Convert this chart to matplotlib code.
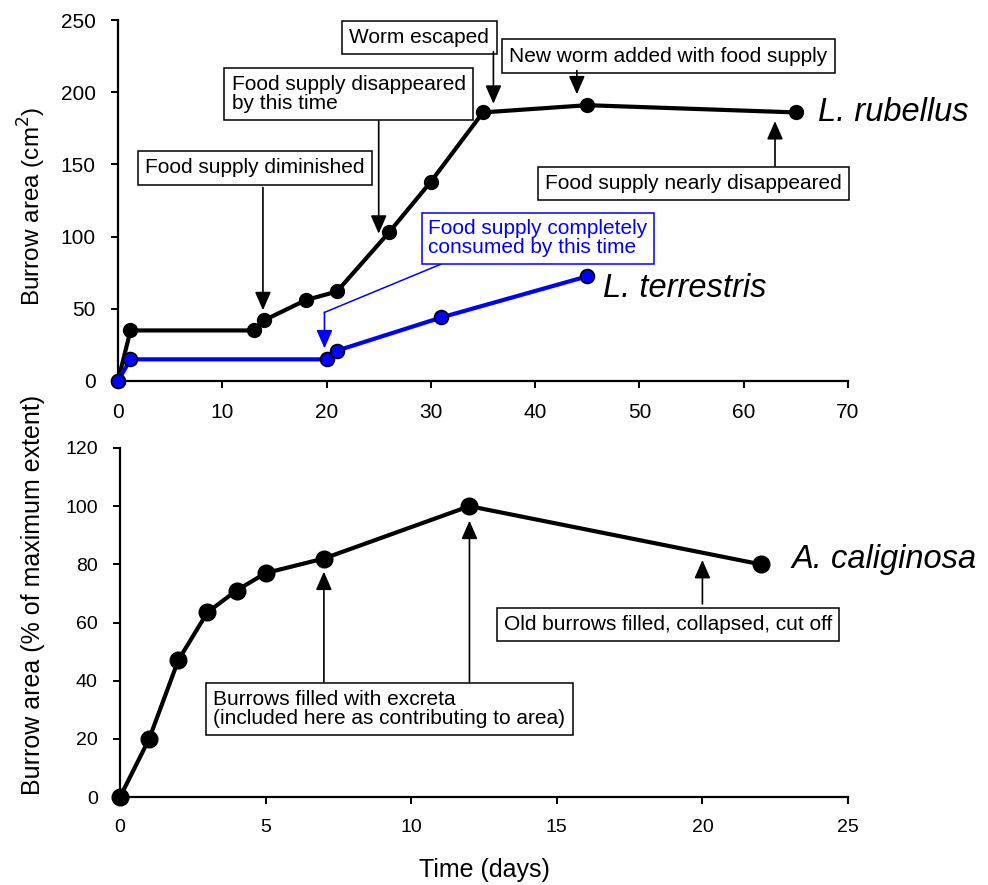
import numpy as np
import matplotlib as mpl
mpl.use("Agg")
from matplotlib import pyplot as plt

mpl.rcParams.update({
    "font.family": "sans-serif",
    "font.sans-serif": ["Liberation Sans", "DejaVu Sans"],
    "font.size": 14,
})

# L. rubellus (top, black)
rub_day = [0, 1.2, 13, 14, 18, 21, 26, 30, 35, 45, 65]
rub_area = [0, 35, 35, 42, 56, 62, 103, 138, 186, 191, 186]
# L. terrestris (top, blue)
ter_day = [0, 1.2, 20, 21, 31, 45]
ter_area = [0, 15, 15, 21, 44, 72.5]
# A. caliginosa (bottom)
cal_day = [0, 1, 2, 3, 4, 5, 7, 12, 22]
cal_pct = [0, 20, 47, 63.5, 71, 77, 82, 100, 80]

blue = "#0000ff"
fs = 15
box = dict(boxstyle="square,pad=0.35", fc="white", ec="black", lw=1.1)
arr = dict(arrowstyle="-|>,head_length=0.8,head_width=0.35", color="black",
           lw=1.2, shrinkA=0, shrinkB=0)


def style_axes(ax, lsize):
    ax.spines["top"].set_visible(False)
    ax.spines["right"].set_visible(False)
    ax.spines["left"].set_linewidth(1.6)
    ax.spines["bottom"].set_linewidth(1.6)
    ax.tick_params(direction="out", length=5, width=1.4, labelsize=lsize)
    ax.tick_params(axis="x", pad=11)
    ax.tick_params(axis="y", pad=11)


fig = plt.figure(figsize=(9.88, 8.85), dpi=100)

# ---- top panel
ax = fig.add_axes([0.1194, 0.5695, 0.7389, 0.4079])
ax.plot(rub_day, rub_area, "-o", color="black", lw=3, ms=10, clip_on=False, zorder=3)
ax.plot(ter_day, ter_area, "-o", color=blue, mfc=blue, mec="black", mew=1.2,
        lw=3, ms=10, clip_on=False, zorder=4)
ax.set_xlim(0, 70)
ax.set_ylim(0, 250)
ax.set_xticks(np.arange(0, 71, 10))
ax.set_yticks(np.arange(0, 251, 50))
style_axes(ax, 15)
ax.set_ylabel("Burrow area (cm$^2$)", fontsize=17.5)
ax.yaxis.set_label_coords(-0.096, 0.485)

ax.text(13.1, 147.7, "Food supply diminished", ha="center", va="center", fontsize=fs, bbox=box)
ax.annotate("", xy=(13.9, 49), xytext=(13.9, 134), arrowprops=arr)

ax.text(10.9, 198.8, "Food supply disappeared\nby this time", ha="left", va="center",
        fontsize=fs, linespacing=1.0, bbox=box)
ax.annotate("", xy=(25.0, 102), xytext=(25.0, 180), arrowprops=arr)

ax.text(28.9, 237.9, "Worm escaped", ha="center", va="center", fontsize=fs, bbox=box)
ax.annotate("", xy=(36.0, 192), xytext=(36.0, 228), arrowprops=arr)

ax.text(52.8, 224.9, "New worm added with food supply", ha="center", va="center",
        fontsize=fs, bbox=box)
ax.annotate("", xy=(44.0, 198.5), xytext=(44.0, 215), arrowprops=arr)

ax.text(55.2, 136.8, "Food supply nearly disappeared", ha="center", va="center",
        fontsize=fs, bbox=box)
ax.annotate("", xy=(63.0, 180), xytext=(63.0, 149), arrowprops=arr)

ax.text(29.75, 98.7, "Food supply completely\nconsumed by this time", ha="left", va="center",
        fontsize=fs, color=blue, linespacing=1.0,
        bbox=dict(boxstyle="square,pad=0.3", fc="white", ec=blue, lw=1.1))
ax.plot([31.0, 19.8], [81, 47.5], color=blue, lw=1.1)
ax.annotate("", xy=(19.8, 22.6), xytext=(19.8, 47.5),
            arrowprops=dict(arr, color=blue))

ax.text(67.1, 185.6, "L. rubellus", style="italic", fontsize=23.5, ha="left", va="center",
        clip_on=False)
ax.text(46.5, 64.4, "L. terrestris", style="italic", fontsize=23.5, ha="left", va="center")

# ---- bottom panel
ax2 = fig.add_axes([0.1215, 0.0994, 0.7368, 0.3944])
ax2.plot(cal_day, cal_pct, "-o", color="black", lw=3, ms=12, clip_on=False, zorder=3)
ax2.set_xlim(0, 25)
ax2.set_ylim(0, 120)
ax2.set_xticks(np.arange(0, 26, 5))
ax2.set_yticks(np.arange(0, 121, 20))
style_axes(ax2, 14)
ax2.set_ylabel("Burrow area (% of maximum extent)", fontsize=18)
ax2.yaxis.set_label_coords(-0.103, 0.579)
ax2.set_xlabel("Time (days)", fontsize=18, labelpad=16)

ax2.text(3.2, 30.3, "Burrows filled with excreta\n(included here as contributing to area)",
         ha="left", va="center", fontsize=fs, linespacing=1.0, bbox=box)
ax2.annotate("", xy=(7.0, 77.5), xytext=(7.0, 39.6), arrowprops=arr)
ax2.annotate("", xy=(12.0, 95), xytext=(12.0, 39.6), arrowprops=arr)

ax2.text(18.82, 59.3, "Old burrows filled, collapsed, cut off", ha="center", va="center",
         fontsize=fs, bbox=box)
ax2.annotate("", xy=(20.0, 81.5), xytext=(20.0, 66.4), arrowprops=arr)

ax2.text(23.07, 81.5, "A. caliginosa", style="italic", fontsize=23.5, ha="left", va="center")

fig.savefig("out.png", dpi=100)
